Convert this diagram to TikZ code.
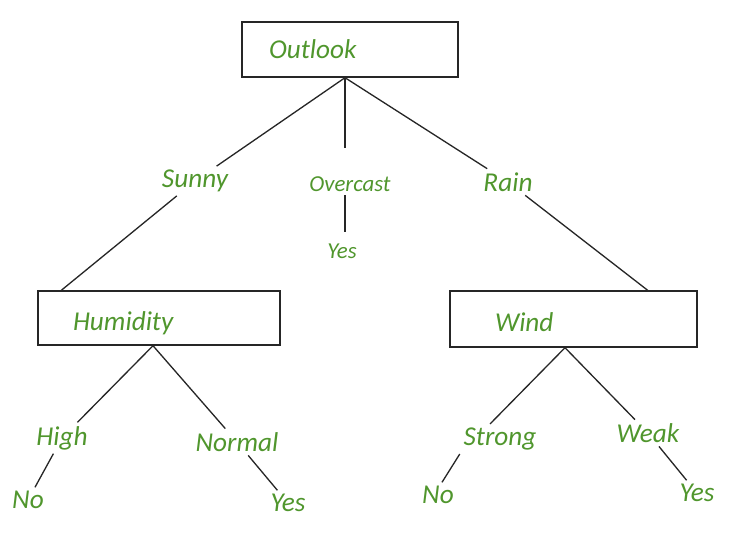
\documentclass[tikz,border=0pt]{standalone}
\usepackage{fontspec}
\setmainfont{Carlito}
\usepackage{xcolor}
\usepackage{tikz}
\usetikzlibrary{positioning}
\definecolor{labelgreen}{RGB}{80,150,45}

\begin{document}
\begin{tikzpicture}[x=0.02cm, y=-0.02cm,
    attr/.style={draw=black!85, thick, rectangle, align=left,
      font=\fontsize{15.5}{18}\selectfont\itshape, text=labelgreen},
    val/.style={font=\fontsize{15.5}{18}\selectfont\itshape, text=labelgreen, inner sep=2pt},
    smallval/.style={val, font=\fontsize{13}{15}\selectfont\itshape},
    every edge/.style={draw=black!85, line width=0.75pt}]
      \useasboundingbox (0,0) rectangle (748,532);
      % attribute boxes
      \node[attr, text width=3.24cm, inner xsep=0.54cm, minimum height=1.1cm] (outlook) at (350,49.5) {Outlook};
      \node[attr, text width=3.44cm, inner xsep=0.7cm, minimum height=1.08cm,
        text height=17.8pt, text depth=3.5pt] (hum) at (159,318) {Humidity};
      \node[attr, text width=3.14cm, inner xsep=0.9cm, minimum height=1.12cm,
        text height=14.4pt, text depth=0pt] (wind) at (573.5,319) {Wind};
      \coordinate (root) at ([xshift=-0.1cm]outlook.south);
      \coordinate (humroot) at ([xshift=-0.12cm]hum.south);
      \coordinate (windroot) at ([xshift=-0.17cm]wind.south);
      % branch values
      \node[val] (sunny) at (195,181) {Sunny};
      \node[smallval] (overcast) at (350,184) {Overcast};
      \node[val] (rain) at (508,182) {Rain};
      \node[smallval] (yesO) at (342,251) {Yes};
      \node[val] (high) at (62,438) {High};
      \node[val] (normal) at (237,442) {Normal};
      \node[val] (noH) at (28,500) {No};
      \node[val] (yesN) at (288,503) {Yes};
      \node[val] (strong) at (500,439) {Strong};
      \node[val] (weak) at (648,433) {Weak};
      \node[val] (noS) at (438,495) {No};
      \node[val] (yesW) at (697,493) {Yes};
      \path
      (root) edge (sunny)
      (sunny) edge ([xshift=0.48cm]hum.north west)
      (root) edge [shorten >=0.5cm] (root |- overcast.north)
      (overcast.south -| root) edge [shorten >=0.16cm] (yesO.north -| root)
      (root) edge (rain)
      (rain) edge ([xshift=-1cm]wind.north east)
      (humroot) edge (high)
      (high) edge (noH)
      (humroot) edge (normal)
      (normal) edge (yesN)
      (windroot) edge ([xshift=-0.2cm]strong.north)
      (strong.south west) edge ([xshift=0.08cm]noS.north)
      (windroot) edge (weak)
      (weak) edge (yesW);
\end{tikzpicture}
\end{document}
